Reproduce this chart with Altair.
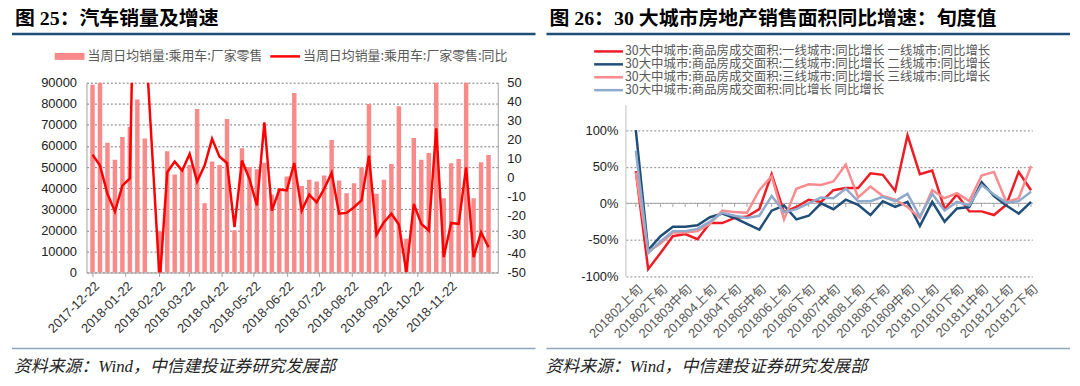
import altair as alt
import pandas as pd

# ---------------- Left panel: car sales ----------------
car_dates = [d.strftime("%Y-%m-%d")
             for d in pd.date_range("2017-12-22", "2018-12-28", freq="7D")
             if d.strftime("%Y-%m-%d") != "2018-02-16"]
car_sales = [89000, 95000, 61500, 53500, 64300, 69000, 82000, 63500, 19500, 57500,
             46500, 48500, 51000, 77500, 32800, 52600, 51000, 72800, 20000, 58900,
             50000, 49000, 52000, 37000, 40000, 45500, 85100, 41000, 44000, 43100,
             46000, 62800, 43600, 37600, 42300, 49900, 79900, 37300, 44000, 51500,
             78800, 16000, 63800, 53500, 56700, 95000, 35200, 51800, 53800, 95000,
             35200, 52300, 55700]
car_yoy = [12.1, 6.3, -8.6, -17.9, -4.2, -0.4, 200, 80, -55, 2.8,
           8.4, 3.7, 12.5, -2.1, 6.3, 20.4, 11, 7.7, -26.1, 9,
           -0.7, -14.7, 29.1, -17.4, -6.3, -6.8, 7.7, -17.4, -9, -13,
           -6, 2.5, -19, -18.6, -15.6, -12, 11.6, -30.2, -23.5, -19.1,
           -24.7, -49.8, -13.9, -24.4, -27.9, 26, -41.9, -23.9, -24.4, 5.4,
           -41.9, -28.8, -36.7]
car_ticks = ["2017-12-22", "2018-01-22", "2018-02-22", "2018-03-22", "2018-04-22",
             "2018-05-22", "2018-06-22", "2018-07-22", "2018-08-22", "2018-09-22",
             "2018-10-22", "2018-11-22"]
left_ticks = [0, 10000, 20000, 30000, 40000, 50000, 60000, 70000, 80000, 90000]
right_ticks = [-50, -40, -30, -20, -10, 0, 10, 20, 30, 40, 50]
left_title = "图 25：汽车销量及增速"
left_leg_bar = "当周日均销量:乘用车:厂家零售"
left_leg_line = "当周日均销量:乘用车:厂家零售:同比"
source_text = "资料来源：Wind，中信建投证券研究发展部"

# ---------------- Right panel: 30 cities ----------------
periods = ["201802上旬", "201802中旬", "201802下旬", "201803上旬", "201803中旬", "201803下旬",
           "201804上旬", "201804中旬", "201804下旬", "201805上旬", "201805中旬", "201805下旬",
           "201806上旬", "201806中旬", "201806下旬", "201807上旬", "201807中旬", "201807下旬",
           "201808上旬", "201808中旬", "201808下旬", "201809上旬", "201809中旬", "201809下旬",
           "201810上旬", "201810中旬", "201810下旬", "201811上旬", "201811中旬", "201811下旬",
           "201812上旬", "201812中旬", "201812下旬"]
tier1 = [44, -90, -68, -45, -42, -49, -27, -27, -20, -18, -8, 40, -12, -5, 5, 2, 18,
         21, 21, 41, 39, 17, 93, 40, 45, -8, 12, -11, -11, -16, -2, 43, 18]
tier2 = [100, -64, -45, -32, -32, -30, -19, -14, -20, -28, -36, -10, -3, -22, -17, 0, -8,
         5, -2, -16, 3, -5, 2, -31, 2, -25, -7, -5, 29, 10, -3, -14, 2]
tier3 = [42, -66, -55, -40, -40, -38, -28, -10, -12, -13, 18, 37, -22, 20, 26, 25, 30,
         53, 8, 23, 10, 5, -5, -20, 18, 7, 14, 3, 38, 43, 2, 7, 51]
total = [72, -68, -52, -38, -38, -35, -25, -13, -17, -20, -17, 10, -12, -8, 0, 8, 7,
         20, 3, 3, 9, 3, 13, -18, 13, -10, 2, -3, 25, 12, 1, 3, 16]
series_names = ["30大中城市:商品房成交面积:一线城市:同比增长 一线城市:同比增长",
                "30大中城市:商品房成交面积:二线城市:同比增长 二线城市:同比增长",
                "30大中城市:商品房成交面积:三线城市:同比增长 三线城市:同比增长",
                "30大中城市:商品房成交面积:同比增长 同比增长"]
pct_ticks = [-100, -50, 0, 50, 100]
right_title = "图 26：30 大城市房地产销售面积同比增速：旬度值"

# ---------------- Styles ----------------
PINK = "#F98A8A"
RED = "#FF0000"
SERIES_COLORS = ["#EE1C25", "#1F4E79", "#F88C8E", "#8FAACB"]
NAVY = "#1F4E79"
FOOT = "#8EA4BC"
TXT = "#595959"
NUMFONT = "Liberation Sans"
CJK = "Noto Sans CJK SC"
LABELFONT = "Liberation Sans, Noto Sans CJK SC"
TITLEFONT = "Liberation Serif, Noto Sans CJK SC"
SRCFONT = "Liberation Serif, Noto Sans CJK SC"

W1, H1 = 414, 191
W2, H2 = 409, 195


def one(t=""):
    return pd.DataFrame({"t": [t]})


def text_layer(t, x, y, size, color="#000", weight="normal", style="normal", font=CJK):
    return alt.Chart(one(t)).mark_text(
        align="left", baseline="middle", font=font, fontSize=size,
        fontWeight=weight, fontStyle=style, color=color
    ).encode(text="t:N", x=alt.value(x), y=alt.value(y))


def hrule(x1, x2, y, color, width):
    return alt.Chart(one()).mark_rule(color=color, strokeWidth=width).encode(
        x=alt.value(x1), x2=alt.value(x2), y=alt.value(y))


# ---------------- Left chart ----------------
car_df = pd.DataFrame({"date": car_dates, "sales": car_sales, "yoy": car_yoy})


def dt(s):
    y, m, d = (int(p) for p in s.split("-"))
    return alt.DateTime(year=y, month=m, date=d, utc=True)


xdom = alt.Scale(type="utc", domain=[dt("2017-12-21"), dt("2019-01-01")])
car_xaxis = alt.Axis(values=[dt(s) for s in car_ticks], format="%Y-%m-%d",
                     labelAngle=-45, labelFont=NUMFONT, labelFontSize=13,
                     labelColor="#333", domainColor="#A0A0A0", tickColor="#A0A0A0",
                     tickSize=4, labelPadding=3, grid=False, labelOverlap=False)
base = alt.Chart(car_df)
bars = base.mark_bar(size=4.5, color=PINK, clip=True).encode(
    x=alt.X("date:T", scale=xdom, title=None, axis=car_xaxis),
    y=alt.Y("sales:Q", scale=alt.Scale(domain=[0, 90000], nice=False, zero=True), title=None,
            axis=alt.Axis(values=left_ticks, labelExpr="toString(datum.value)",
                          labelFont=NUMFONT, labelFontSize=13, labelColor="#222",
                          domainColor="#A0A0A0", ticks=False, labelPadding=10,
                          grid=True, gridColor="#777", gridDash=[2, 2], gridWidth=1)),
)
line = base.mark_line(color=RED, strokeWidth=2.5, clip=True).encode(
    x=alt.X("date:T", scale=xdom, title=None, axis=car_xaxis),
    y=alt.Y("yoy:Q", scale=alt.Scale(domain=[-50, 50], nice=False, zero=False), title=None,
            axis=alt.Axis(orient="right", values=right_ticks, labelExpr="toString(datum.value)",
                          labelFont=NUMFONT, labelFontSize=13, labelColor="#222",
                          domainColor="#A0A0A0", ticks=False, labelPadding=9, grid=False)),
)

left_deco = [
    text_layer(left_title, -72, -64, 20, "#000", "bold", font=TITLEFONT),
    hrule(-75, 452, -49, NAVY, 2.5),
    alt.Chart(one()).mark_rect(color=PINK).encode(
        x=alt.value(-32), x2=alt.value(-2), y=alt.value(-30), y2=alt.value(-23)),
    text_layer(left_leg_bar, 1, -26.5, 13, TXT),
    hrule(185, 215, -26.5, RED, 2.5),
    text_layer(left_leg_line, 218, -26.5, 13, TXT),
    hrule(-75, 452, 267.5, FOOT, 1.5),
    text_layer(source_text, -73, 286, 17, "#222", style="italic", font=SRCFONT),
]

left = alt.layer(bars, line, *left_deco).resolve_scale(y="independent").properties(
    width=W1, height=H1)

# ---------------- Right chart ----------------
label_expr = "[" + ",".join("'%s'" % p for p in periods) + "][datum.value]"
xr = alt.Scale(domain=[-0.8, 32.1], nice=False, zero=False)
yr = alt.Scale(domain=[-100, 165], nice=False, zero=False)
city_xaxis = alt.Axis(values=list(range(0, len(periods), 2)), labelExpr=label_expr,
                      labelAngle=-45, labelFont=LABELFONT, labelFontSize=13,
                      labelColor=TXT, domain=False, ticks=False, grid=False,
                      labelPadding=6, labelOverlap=False)

tick_df = pd.DataFrame({"i": list(range(len(periods)))})
ticks = alt.Chart(tick_df).mark_rule(color="#A6A6A6", strokeWidth=1).encode(
    x=alt.X("i:Q", scale=xr, title=None, axis=city_xaxis),
    y=alt.datum(0, scale=yr),
    y2=alt.datum(-5),
)

zero_rule = alt.Chart(one()).mark_rule(color="#A6A6A6", strokeWidth=1).encode(
    y=alt.datum(0))
axis_line = alt.Chart(one()).mark_rule(color="#BFBFBF", strokeWidth=1).encode(
    x=alt.value(0), y=alt.datum(-100), y2=alt.datum(134))

city_yaxis = alt.Axis(values=pct_ticks, labelExpr="toString(datum.value) + '%'",
                      labelFont=NUMFONT, labelFontSize=13, labelColor="#222",
                      domain=False, ticks=False, labelPadding=8,
                      grid=True, gridColor="#888", gridDash=[2, 2], gridWidth=1)
series_layers = []
for k, (name, vals) in enumerate(zip(series_names, [tier1, tier2, tier3, total])):
    df = pd.DataFrame({"i": list(range(len(vals))), "v": vals})
    series_layers.append(
        alt.Chart(df).mark_line(color=SERIES_COLORS[k], strokeWidth=2.5).encode(
            x=alt.X("i:Q", scale=xr, title=None, axis=city_xaxis),
            y=alt.Y("v:Q", scale=yr, title=None, axis=city_yaxis)))

right_deco = [
    text_layer(right_title, -77, -64, 20, "#000", "bold", font=TITLEFONT),
    hrule(-80, 447, -49, NAVY, 2.5),
]
leg_rows = [-31.5, -18.5, -5.5, 7.5]
for k, name in enumerate(series_names):
    right_deco.append(hrule(-32, -3, leg_rows[k], SERIES_COLORS[k], 2.5))
    right_deco.append(text_layer(name, -1, leg_rows[k], 12.5, TXT))
right_deco += [
    hrule(-80, 447, 267.5, FOOT, 1.5),
    text_layer(source_text, -81, 286, 17, "#222", style="italic", font=SRCFONT),
]

right = alt.layer(ticks, zero_rule, axis_line, *series_layers, *right_deco).properties(
    width=W2, height=H2)

chart = alt.hconcat(left, right, spacing=7).properties(
    padding={"left": 2, "top": 0, "right": 0, "bottom": 0}
).configure_view(stroke=None).configure_axis(labelOverlap=False)

chart.save("out.html", embed_options={"renderer": "svg", "actions": False})
